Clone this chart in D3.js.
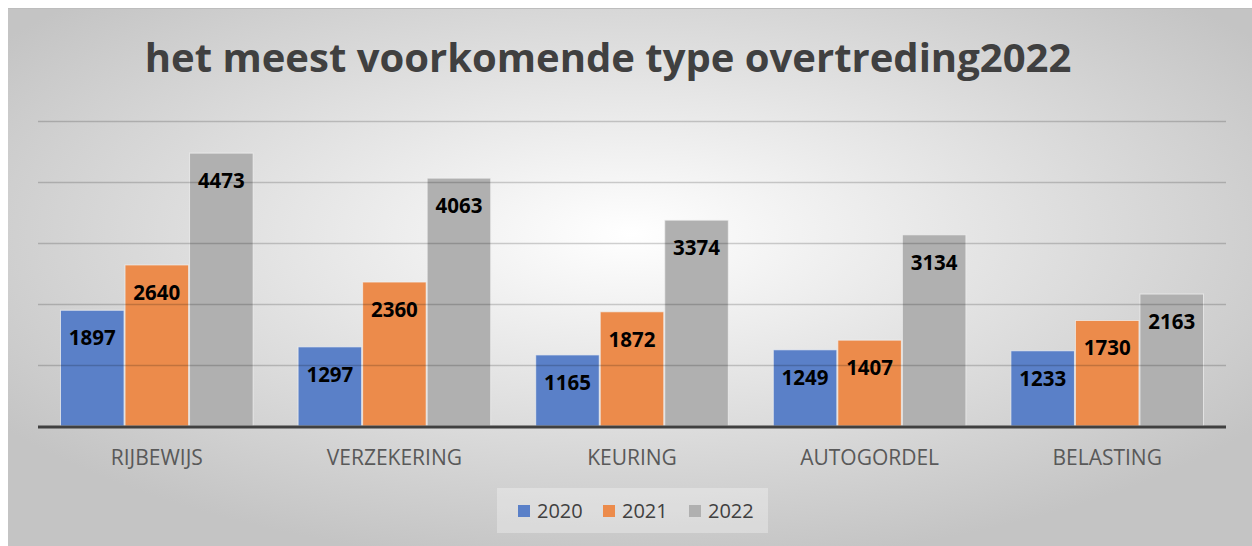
<!DOCTYPE html>
<html><head><meta charset="utf-8">
<script src="https://cdn.jsdelivr.net/npm/d3@7"></script>
<style>html,body{margin:0;padding:0;background:#fff;}</style>
</head><body>
<svg id="c" width="1252" height="546"></svg>
<script>
const title = "het meest voorkomende type overtreding2022";
const categories = ["RIJBEWIJS","VERZEKERING","KEURING","AUTOGORDEL","BELASTING"];
const seriesNames = ["2020","2021","2022"];
const values2020 = [1897,1297,1165,1249,1233];
const values2021 = [2640,2360,1872,1407,1730];
const values2022 = [4473,4063,3374,3134,2163];
const seriesColors = ["#5a80c8","#ec8b4b","#b0b0b0"];
const yTicks = [1000,2000,3000,4000,5000];

(function(){
const seriesValues = [values2020, values2021, values2022];
const svg = d3.select("#c");
const font = "'Open Sans', 'Liberation Sans', sans-serif";

const defs = svg.append("defs");
const rg = defs.append("radialGradient").attr("id","bg")
  .attr("cx","50%").attr("cy","42%").attr("r","62%")
  .attr("gradientUnits","objectBoundingBox");
rg.append("stop").attr("offset","0%").attr("stop-color","#ffffff");
rg.append("stop").attr("offset","100%").attr("stop-color","#c4c4c4");

svg.append("rect").attr("x",8).attr("y",8).attr("width",1244).attr("height",538).attr("fill","url(#bg)");
svg.append("line").attr("x1",8).attr("x2",1252).attr("y1",8.5).attr("y2",8.5).attr("stroke","#bdbdbd").attr("stroke-width",1);

const pLeft = 38, pRight = 1226, pTop = 121, base = 426;
const x0 = d3.scaleBand().domain(categories).range([pLeft,pRight]).padding(0);
const inner = 22;
const x1 = d3.scaleBand().domain(seriesNames).range([inner, x0.bandwidth()-inner]).padding(0);
const y = d3.scaleLinear().domain([0,5000]).range([base, pTop]);

const groups = svg.append("g").selectAll("g").data(categories).join("g")
  .attr("transform", d => `translate(${x0(d)},0)`);
groups.selectAll("rect").data((c,i) => seriesNames.map((s,j) => ({s, v: seriesValues[j][i], j})))
  .join("rect")
  .attr("x", d => x1(d.s)+0.5)
  .attr("width", x1.bandwidth()-1)
  .attr("y", d => y(d.v))
  .attr("height", d => base - y(d.v))
  .attr("fill", d => seriesColors[d.j])
  .attr("stroke","#f2f2f2").attr("stroke-opacity",0.7).attr("stroke-width",1);

svg.append("g").selectAll("line").data(yTicks).join("line")
  .attr("x1",pLeft).attr("x2",pRight)
  .attr("y1", d => Math.round(y(d))+0.5).attr("y2", d => Math.round(y(d))+0.5)
  .attr("stroke","#000").attr("stroke-opacity",0.18).attr("stroke-width",1.3);

svg.append("line").attr("x1",pLeft).attr("x2",pRight).attr("y1",base+1).attr("y2",base+1)
  .attr("stroke","#404040").attr("stroke-width",3);

groups.selectAll("text").data((c,i) => seriesNames.map((s,j) => ({s, v: seriesValues[j][i], j})))
  .join("text")
  .attr("x", d => x1(d.s)+x1.bandwidth()/2)
  .attr("y", d => y(d.v)+35)
  .attr("text-anchor","middle")
  .attr("font-family",font).attr("font-weight","bold").attr("font-size",20.5)
  .attr("fill","#000").text(d => d.v);

const xAxis = d3.axisBottom(x0).tickSize(0).tickPadding(0);
const ax = svg.append("g").attr("transform",`translate(0,${base})`).call(xAxis);
ax.select(".domain").remove();
ax.selectAll("text").attr("dy",null).attr("y",39)
  .attr("font-family",font).attr("font-size",21).attr("fill","#595959");

const t = svg.append("text").attr("x",608).attr("y",72).attr("text-anchor","middle")
  .attr("font-family",font).attr("font-weight","bold").attr("font-size",40)
  .attr("fill","#404040").text(title);
const w = t.node().getComputedTextLength();
t.attr("font-size", 40*927/w);

svg.append("rect").attr("x",497).attr("y",488).attr("width",271).attr("height",45)
  .attr("fill","#fff").attr("fill-opacity",0.3);
const legX = [518,603,689];
const lg = svg.append("g").selectAll("g").data(seriesNames).join("g")
  .attr("transform",(d,i)=>`translate(${legX[i]},505)`);
lg.append("rect").attr("width",12).attr("height",12).attr("fill",(d,i)=>seriesColors[i]);
lg.append("text").attr("x",19).attr("y",13).attr("font-family",font).attr("font-size",20)
  .attr("fill","#404040").text(d=>d);
})();
</script>
</body></html>
